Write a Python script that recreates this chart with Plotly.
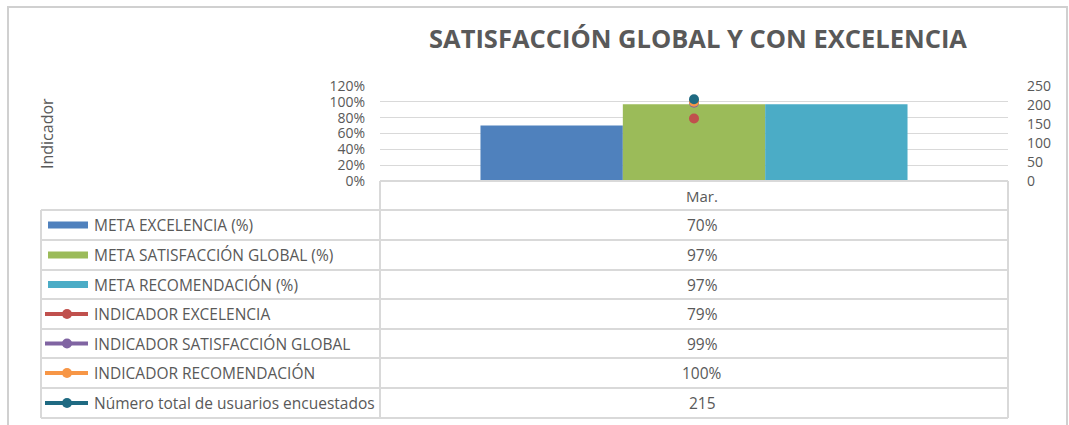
import plotly.graph_objects as go

W, H = 1069, 425

categories = ["Mar."]
meta_excelencia = [0.70]
meta_satisfaccion = [0.97]
meta_recomendacion = [0.97]
ind_excelencia = [0.79]
ind_satisfaccion = [0.99]
ind_recomendacion = [1.00]
usuarios = [215]

left_ticks = [0, 0.2, 0.4, 0.6, 0.8, 1.0, 1.2]
right_ticks = [0, 50, 100, 150, 200, 250]

series = [
    ("META EXCELENCIA (%)", meta_excelencia, "#4F81BD", "bar", "pct"),
    ("META SATISFACCIÓN GLOBAL (%)", meta_satisfaccion, "#9BBB59", "bar", "pct"),
    ("META RECOMENDACIÓN (%)", meta_recomendacion, "#4BACC6", "bar", "pct"),
    ("INDICADOR EXCELENCIA", ind_excelencia, "#C0504D", "line", "pct"),
    ("INDICADOR SATISFACCIÓN GLOBAL", ind_satisfaccion, "#8064A2", "line", "pct"),
    ("INDICADOR RECOMENDACIÓN", ind_recomendacion, "#F79646", "line", "pct"),
    ("Número total de usuarios encuestados", usuarios, "#1F6A82", "line", "num"),
]

TXT = "#595959"
GRID = "#D9D9D9"
FONT = "Open Sans"


def px(x):
    return x / W


def py(y):
    return 1 - y / H


fig = go.Figure()
for name, vals, color, kind, fmt in series:
    if kind == "bar":
        fig.add_trace(go.Bar(x=categories, y=vals, name=name, marker_color=color,
                             marker_line_width=0, yaxis="y"))
for name, vals, color, kind, fmt in series:
    if kind == "line":
        fig.add_trace(go.Scatter(x=categories, y=vals, name=name, mode="lines+markers",
                                 line=dict(color=color, width=3),
                                 marker=dict(color=color, size=10),
                                 yaxis="y2" if fmt == "num" else "y"))

plot_x0, plot_x1 = 380, 1008
plot_y0, plot_y1 = 86, 181

fig.update_layout(
    width=W, height=H, autosize=False,
    margin=dict(l=0, r=0, t=0, b=0, autoexpand=False),
    paper_bgcolor="white", plot_bgcolor="white",
    showlegend=False,
    barmode="group", bargap=0.32, bargroupgap=0,
    font=dict(family=FONT, color=TXT),
    xaxis=dict(domain=[px(plot_x0), px(plot_x1)], showticklabels=False, automargin=False,
               showgrid=False, zeroline=False, showline=False, ticks=""),
    yaxis=dict(domain=[py(plot_y1), py(plot_y0)], range=[0, 1.2], automargin=False,
               tickvals=left_ticks, tickformat=".0%",
               showgrid=True, gridcolor=GRID, gridwidth=1, zeroline=False,
               showline=False, ticks="", ticklabelstandoff=14,
               tickfont=dict(size=14, color=TXT, family=FONT)),
    yaxis2=dict(overlaying="y", side="right", range=[0, 250], automargin=False,
                tickvals=right_ticks, showgrid=False, zeroline=False,
                showline=False, ticks="", ticklabelstandoff=18,
                tickfont=dict(size=14, color=TXT, family=FONT)),
)

shapes = []
# outer border
shapes.append(dict(type="rect", xref="paper", yref="paper", x0=px(8), x1=px(1067),
                   y0=py(440), y1=py(7), line=dict(color="#D0D0D0", width=2),
                   fillcolor="rgba(0,0,0,0)", layer="below"))

row_lines = [210, 240, 270, 299, 329, 358, 388, 418]
shapes.append(dict(type="line", xref="paper", yref="paper", x0=px(plot_x0), x1=px(plot_x1),
                   y0=py(181), y1=py(181), line=dict(color=GRID, width=2)))
for yl in row_lines:
    shapes.append(dict(type="line", xref="paper", yref="paper", x0=px(41), x1=px(plot_x1),
                       y0=py(yl), y1=py(yl), line=dict(color=GRID, width=2)))
shapes.append(dict(type="line", xref="paper", yref="paper", x0=px(41), x1=px(41),
                   y0=py(210), y1=py(418), line=dict(color=GRID, width=2)))
for xv in (plot_x0, plot_x1):
    shapes.append(dict(type="line", xref="paper", yref="paper", x0=px(xv), x1=px(xv),
                       y0=py(181), y1=py(418), line=dict(color=GRID, width=2)))

annotations = []
annotations.append(dict(text="<b>SATISFACCIÓN GLOBAL Y CON EXCELENCIA</b>", x=px(698), y=py(38),
                        xref="paper", yref="paper", showarrow=False,
                        font=dict(size=25.5, color=TXT, family=FONT),
                        xanchor="center", yanchor="middle"))
annotations.append(dict(text="Indicador", x=px(47), y=py(134), xref="paper", yref="paper",
                        showarrow=False, textangle=-90, xanchor="center", yanchor="middle",
                        font=dict(size=16, color=TXT, family=FONT)))
col_cx = 702
annotations.append(dict(text=categories[0], x=px(col_cx), y=py(196), xref="paper", yref="paper",
                        showarrow=False, xanchor="center", yanchor="middle",
                        font=dict(size=15, color=TXT, family=FONT)))

for i, (name, vals, color, kind, fmt) in enumerate(series):
    top = row_lines[i]
    bot = row_lines[i + 1]
    cy = (top + bot) / 2
    if kind == "bar":
        shapes.append(dict(type="rect", xref="paper", yref="paper", x0=px(48), x1=px(88),
                           y0=py(cy + 3.5), y1=py(cy - 3.5), fillcolor=color,
                           line=dict(width=0)))
    else:
        shapes.append(dict(type="line", xref="paper", yref="paper", x0=px(45), x1=px(88),
                           y0=py(cy), y1=py(cy), line=dict(color=color, width=4)))
        shapes.append(dict(type="circle", xref="paper", yref="paper", x0=px(62), x1=px(72),
                           y0=py(cy + 5), y1=py(cy - 5), fillcolor=color,
                           line=dict(width=0)))
    annotations.append(dict(text=name, x=px(92), y=py(cy), xref="paper", yref="paper",
                            showarrow=False, xanchor="left", yanchor="middle",
                            font=dict(size=15.5, color=TXT, family=FONT)))
    v = vals[0]
    label = f"{round(v * 100):d}%" if fmt == "pct" else f"{v:d}"
    annotations.append(dict(text=label, x=px(col_cx), y=py(cy), xref="paper", yref="paper",
                            showarrow=False, xanchor="center", yanchor="middle",
                            font=dict(size=15.5, color=TXT, family=FONT)))

fig.update_layout(shapes=shapes, annotations=annotations)
fig.write_html("out.html", config={"displayModeBar": False},
               post_script="document.body.style.margin='0';document.body.style.overflow='hidden';")
